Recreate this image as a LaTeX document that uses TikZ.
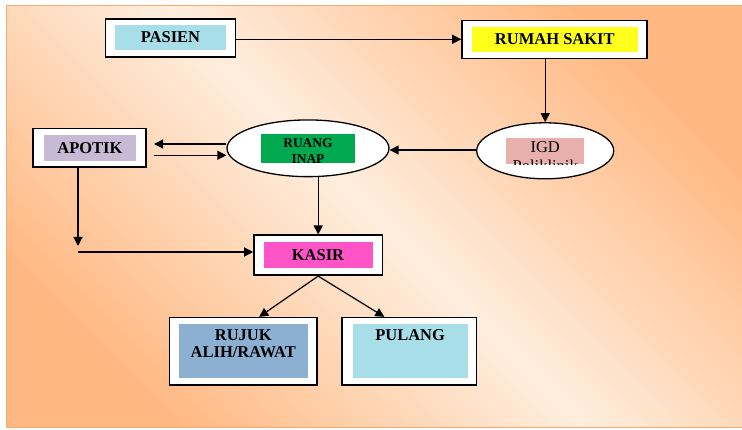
\documentclass[tikz,border=0pt]{standalone}
\usepackage{fontspec}
\setmainfont{Liberation Serif}
\usetikzlibrary{shapes.geometric,arrows.meta,calc}
\definecolor{bgorange}{RGB}{255,184,130}
\definecolor{bglight}{RGB}{254,238,222}
\definecolor{edgeorange}{RGB}{245,172,115}
\definecolor{cyanbox}{RGB}{168,222,232}
\definecolor{yellowbox}{RGB}{255,255,30}
\definecolor{pinkbox}{RGB}{232,176,172}
\definecolor{greenbox}{RGB}{0,168,80}
\definecolor{lavbox}{RGB}{200,186,212}
\definecolor{magbox}{RGB}{255,84,200}
\definecolor{bluebox}{RGB}{140,176,210}
\tikzset{
  outerbox/.style={draw=black, line width=1.6pt, fill=white, rectangle, inner sep=0pt},
  innerbox/.style={rectangle, inner sep=0pt, text=black, font=\bfseries\fontsize{16.5}{16.4}\selectfont},
  ellbox/.style={draw=black, line width=1.3pt, fill=white, ellipse, inner sep=0pt},
  txt/.style={inner sep=0pt, text=black, align=center},
  arr/.style={-{Triangle[length=9pt,width=9pt]}, line width=1.2pt, draw=black}
}
\begin{document}
\begin{tikzpicture}[x=1pt,y=-1pt]
\useasboundingbox (0,0) rectangle (742,430);
% background panel
\fill[white] (0,0) rectangle (742,430);
\shade[left color=bgorange, right color=bgorange, middle color=bglight, shading angle=-45] (6.5,5.5) rectangle (742,427);
\draw[edgeorange, line width=1pt] (742,5.5) -- (6.5,5.5) -- (6.5,427) -- (742,427);

% PASIEN
\node[outerbox, minimum width=130pt, minimum height=38pt] (pasien) at (170.5,38) {};
\node[innerbox, fill=cyanbox, minimum width=111pt, minimum height=25pt] (pasienIn) at (170.5,37.5) {PASIEN};

% RUMAH SAKIT
\node[outerbox, minimum width=185pt, minimum height=38pt] (rs) at (554.5,39.7) {};
\node[innerbox, fill=yellowbox, minimum width=165.5pt, minimum height=25.3pt] (rsIn) at (554.8,39.3) {RUMAH SAKIT};

% IGD
\node[ellbox, minimum width=137pt, minimum height=56pt] (igd) at (545.2,150.8) {};
\node[rectangle, inner sep=0pt, fill=pinkbox, minimum width=78.5pt, minimum height=26.6pt] (igdIn) at (545.2,151) {};
\begin{scope}
\clip (igdIn.south west) rectangle (igdIn.north east);
\node[txt, anchor=north, font=\fontsize{16.5}{18.6}\selectfont] (igdTxt) at ($(igdIn.north)+(0,4)$) {IGD\\Poliklinik};
\end{scope}

% RUANG INAP
\node[ellbox, minimum width=162pt, minimum height=56.7pt] (ruang) at (308,148.3) {};
\node[rectangle, inner sep=0pt, fill=greenbox, minimum width=94pt, minimum height=28.4pt] (ruangIn) at (308,148.5) {};
\begin{scope}
\clip (ruangIn.south west) rectangle (ruangIn.north east);
\node[txt, anchor=north, font=\bfseries\fontsize{13.5}{16}\selectfont] (ruangTxt) at ($(ruangIn.north)+(0,4.5)$) {RUANG\\INAP};
\end{scope}

% APOTIK
\node[outerbox, minimum width=112.8pt, minimum height=38.6pt] (apotik) at (89.4,148) {};
\node[innerbox, fill=lavbox, minimum width=92.8pt, minimum height=26pt] (apotikIn) at (89.9,148) {APOTIK};

% KASIR
\node[outerbox, minimum width=128.4pt, minimum height=40pt] (kasir) at (318.2,255.3) {};
\node[innerbox, fill=magbox, minimum width=109pt, minimum height=25.7pt] (kasirIn) at (318,254.8) {KASIR};

% RUJUK
\node[outerbox, minimum width=147.6pt, minimum height=67.3pt] (rujuk) at (243.2,351.3) {};
\node[rectangle, inner sep=0pt, fill=bluebox, minimum width=128.6pt, minimum height=54pt] (rujukIn) at (243.3,351.3) {};
\node[txt, anchor=north, font=\bfseries\fontsize{16.5}{16.4}\selectfont] (rujukTxt) at ($(rujukIn.north)+(0,5.5)$) {RUJUK\\ALIH/RAWAT};

% PULANG
\node[outerbox, minimum width=134.6pt, minimum height=67.3pt] (pulang) at (409.3,351.3) {};
\node[rectangle, inner sep=0pt, fill=cyanbox, minimum width=115pt, minimum height=54pt] (pulangIn) at (410.1,351.3) {};
\node[txt, anchor=north, font=\bfseries\fontsize{16.5}{16.4}\selectfont] (pulangTxt) at ($(pulangIn.north)+(0,5.5)$) {PULANG};

% connector helper coordinates
\coordinate (apToR) at (154,144);
\coordinate (rToAp) at (154,155.3);
\coordinate (apDown) at (78,246);
\coordinate (apSide) at (78,252);

% connectors
\draw[arr] (pasien.east |- 0,39.3) -- (rs.west |- 0,39.3);
\draw[arr] (rs.south -| igd.north) -- (igd.north);
\draw[arr] (igd.west |- 0,150) -- (ruang.east |- 0,150);
\draw[arr] (ruang.west |- apToR) -- (apToR);
\draw[arr] (rToAp) -- (ruang.west |- rToAp);
\draw[arr] (apotik.south -| apDown) -- (apDown);
\draw[arr] (apSide) -- (kasir.west |- apSide);
\draw[arr] (ruang.south -| kasir.north) -- (kasir.north);
\draw[arr] (kasir.south) -- ([xshift=16pt]rujuk.north);
\draw[arr] (kasir.south) -- ([xshift=-25pt]pulang.north);
\end{tikzpicture}
\end{document}
